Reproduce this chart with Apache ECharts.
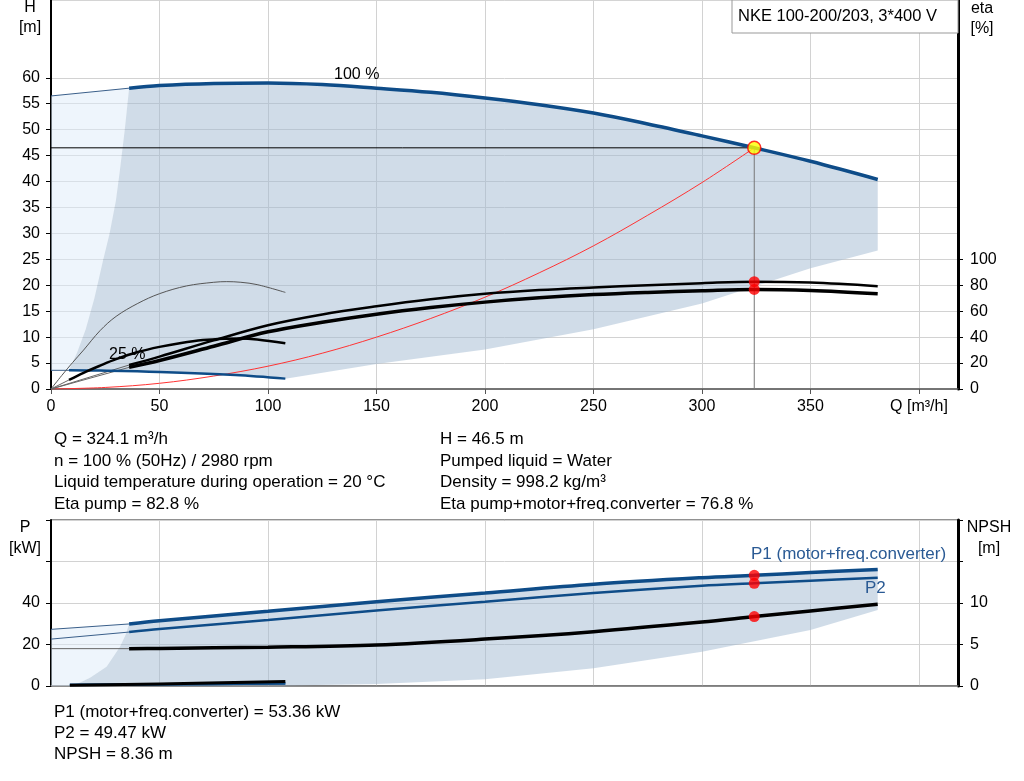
<!DOCTYPE html>
<html><head><meta charset="utf-8">
<script src="https://cdn.jsdelivr.net/npm/echarts@6/dist/echarts.min.js"></script>
<style>html,body{margin:0;padding:0;background:#fff}#c{width:1024px;height:781px}</style>
</head><body><div id="c"></div>
<script>
// ---------- DATA ----------
// Top chart: head H [m] vs Q [m3/h]
const qH100 = [36,50,75,100,125,150,175,200,225,250,275,300,324.1,350,381];
const h100  = [58,58.5,58.9,59,58.7,58,57.2,56.1,54.8,53.2,51.1,48.8,46.5,43.9,40.4];
const qH100Ext = [0,36];
const h100Ext  = [56.5,58];
const qH25 = [8.3,22.6,50,85,108];
const h25  = [3.6,3.55,3.3,2.7,2.0];
const qH25Ext = [0,8.3];
const h25Ext  = [3.6,3.6];
// Efficiency [%] (right axis)
const qEta100 = [36,50,75,100,125,150,175,200,225,250,275,300,324.1,350,381];
const etaPump100  = [18.5,25,37.5,49.2,57.5,63.8,69.2,73.4,76.3,78.3,80,81.6,82.8,82.1,79.3];
const etaTotal100 = [16.7,22,33,44.1,51.5,57.7,62.8,67,70.3,72.8,74.5,75.8,76.8,76,73.5];
const qEtaExt = [0,36];
const etaPumpExt  = [0,18.5];
const etaTotalExt = [0,16.7];
const qEtaPump25 = [0,5,10,15,22.6,30,40,50,62.5,75,81,87.5,95,108];
const etaPump25  = [0,10.5,20.5,30,45,56,66,73.5,79.5,82.3,82.8,82.3,80.5,74.5];
const qEtaTotal25 = [8.3,15,22.6,30,40,50,60,70,80,87,95,108];
const etaTotal25  = [7,12.5,18,23,28.5,32.5,35.5,37.7,38.8,39,38.2,35.2];
const qEtaTotal25Ext = [0,8.3];
const etaTotal25Ext  = [0,7];
// System curve (red)
const qSys = [0,25,50,75,100,125,150,175,200,225,250,275,300,324.1];
const hSys = [0,0.3,1.1,2.5,4.4,6.9,10,13.6,17.7,22.4,27.6,33.5,39.8,46.5];
// Operating range boundaries (top)
const qDarkLower = [381,350,300,250,200,150,108];
const hDarkLower = [26.7,23.3,16.5,11.5,7.6,4.8,2.0];
const qLeftBound = [36,34,31.7,29.9,27,24,20,16,12,8.3];
const hLeftBound = [58,50,42,36.3,30,24.8,17.5,11.5,7,3.6];
// Duty point
const dutyQ = 324.1, dutyH = 46.5, dutyEtaPump = 82.8, dutyEtaTotal = 76.8;
const dutyP1 = 53.36, dutyP2 = 49.47, dutyNPSH = 8.36;
// Bottom chart: power P [kW], NPSH [m]
const qP = [36,50,100,150,200,250,300,324.1,350,381];
const p1 = [29.9,31.5,36,40.6,44.8,49,52.2,53.36,54.7,56.2];
const p2 = [26,27.5,31.8,36.4,40.6,44.8,48.3,49.47,50.7,52.2];
const npsh = [4.5,4.53,4.68,4.95,5.65,6.55,7.7,8.36,9.05,9.85];
const qPExt = [0,36];
const p1Ext = [27.3,29.9];
const p2Ext = [22.6,26];
const npshExt = [4.5,4.5];
const qP25 = [8.7,50,108];
const p1_25 = [0.6,0.8,1.3];
const p2_25 = [0.5,0.7,1.1];
const npsh25 = [0.08,0.25,0.53];
const qPLower = [381,350,300,250,200,150,108,60,10];
const pLower  = [36.6,27,16.5,8.5,3.2,1,0.3,0,0];
const qPLeft = [10,18,25.6,31.8,34.5,36];
const pLeft  = [0,4,9.3,18.9,25,29.9];
// Tick labels
const qTicks = [0,50,100,150,200,250,300,350,400];
const hTicks = [0,5,10,15,20,25,30,35,40,45,50,55,60];
const etaTicks = [0,20,40,60,80,100];
const pTicks = [0,20,40];
const pTickMarks = [0,20,40,60,80];
const npshTicks = [0,5,10];
const npshTickMarks = [0,5,10,15,20];

// ---------- helpers ----------
const zip = (a,b) => a.map((v,i)=>[v,b[i]]);
const rev = a => a.slice().reverse();
const BLUE = '#0e4c88';
const FONT = "'Liberation Sans', Arial, sans-serif";
function line(xi, yi, qs, vs, color, width, z, smooth){
  return {type:'line', xAxisIndex:xi, yAxisIndex:yi, data:zip(qs,vs), showSymbol:false, silent:true,
    smooth: smooth===undefined?0.35:smooth, z:z||4, lineStyle:{color:color, width:width}};
}
function poly(xi, yi, qs, vs, fill){
  const pts = zip(qs,vs);
  return {type:'custom', xAxisIndex:xi, yAxisIndex:yi, data:[pts[0]], silent:true, z:1,
    renderItem:(params, api)=>({type:'polygon', shape:{points: pts.map(p=>api.coord(p))}, style:{fill:fill}})};
}
const darkFill = 'rgba(161,185,209,0.5)';
const lightFill = 'rgba(221,235,249,0.5)';

// polygons
const topDarkQ = qH100.concat(qDarkLower, rev(qH25), rev(qLeftBound));
const topDarkV = h100.concat(hDarkLower, rev(h25), rev(hLeftBound));
const topLightQ = [0].concat(qH100Ext, qLeftBound);
const topLightV = [3.6].concat(h100Ext, hLeftBound);
const botDarkQ = qP.concat(qPLower, qPLeft);
const botDarkV = p1.concat(pLower, pLeft);
const botLightQ = [0].concat(qPExt, rev(qPLeft));
const botLightV = [0].concat(p1Ext, rev(pLeft));

const axisLabelStyle = {color:'#000', fontSize:16, fontFamily:FONT};
const splitStyle = {show:true, lineStyle:{color:'#d2d2d2', width:1}};

const option = {
  animation:false,
  backgroundColor:'#fff',
  grid:[
    {left:51, top:0, width:907, height:389, show:true, borderColor:'#aaa', borderWidth:1},
    {left:51, top:520, width:907, height:166, show:true, borderColor:'#222', borderWidth:1}
  ],
  xAxis:[
    {gridIndex:0, type:'value', min:0, max:418, interval:50,
     axisLine:{lineStyle:{color:'#555', width:1.5}},
     axisTick:{show:true, length:5, lineStyle:{color:'#555'}, customValues:qTicks},
     axisLabel:Object.assign({margin:10, customValues:qTicks,
        formatter:v=> v===400 ? 'Q [m³/h]' : (qTicks.indexOf(v)>=0 ? String(v) : '')}, axisLabelStyle),
     splitLine:splitStyle},
    {gridIndex:1, type:'value', min:0, max:418, interval:50,
     axisLine:{lineStyle:{color:'#777', width:1.5}},
     axisTick:{show:false}, axisLabel:{show:false}, splitLine:splitStyle}
  ],
  yAxis:[
    {gridIndex:0, type:'value', min:0, max:75, interval:5, position:'left',
     axisLine:{show:true, lineStyle:{color:'#000', width:2}},
     axisTick:{show:true, length:5, lineStyle:{color:'#000'}, customValues:hTicks},
     axisLabel:Object.assign({margin:11, customValues:hTicks, formatter:v=> v<=60 ? String(v) : ''}, axisLabelStyle),
     splitLine:splitStyle},
    {gridIndex:0, type:'value', min:0, max:300, interval:20, position:'right',
     axisLine:{show:true, lineStyle:{color:'#000', width:3}},
     axisTick:{show:true, length:5, lineStyle:{color:'#000'}, customValues:etaTicks},
     axisLabel:Object.assign({margin:12, customValues:etaTicks, formatter:v=> v<=100 ? String(v) : ''}, axisLabelStyle),
     splitLine:{show:false}},
    {gridIndex:1, type:'value', min:0, max:80, interval:20, position:'left',
     axisLine:{show:true, lineStyle:{color:'#000', width:2}},
     axisTick:{show:true, length:5, lineStyle:{color:'#000'}, customValues:pTickMarks},
     axisLabel:Object.assign({margin:11, customValues:pTicks, formatter:v=> v<=40 ? String(v) : ''}, axisLabelStyle),
     splitLine:splitStyle},
    {gridIndex:1, type:'value', min:0, max:20, interval:5, position:'right',
     axisLine:{show:true, lineStyle:{color:'#000', width:3}},
     axisTick:{show:true, length:5, lineStyle:{color:'#000'}, customValues:npshTickMarks},
     axisLabel:Object.assign({margin:12, customValues:npshTicks, formatter:v=> v<=10 ? String(v) : ''}, axisLabelStyle),
     splitLine:{show:false}}
  ],
  series:[
    // fills
    poly(0,0,topLightQ,topLightV,lightFill),
    poly(0,0,topDarkQ,topDarkV,darkFill),
    poly(1,2,botLightQ,botLightV,lightFill),
    poly(1,2,botDarkQ,botDarkV,darkFill),
    // duty reference lines
    line(0,0,[0,dutyQ],[dutyH,dutyH],'#000',1,2,false),
    line(0,0,[dutyQ,dutyQ],[dutyH,0],'#777',1,2,false),
    // system curve
    line(0,0,qSys,hSys,'#ff3333',1,3),
    // head curves
    line(0,0,qH100Ext,h100Ext,'#3a5f8a',1,3,false),
    line(0,0,qH100,h100,BLUE,3.5,4),
    line(0,0,qH25Ext,h25Ext,'#3a5f8a',1,3,false),
    line(0,0,qH25,h25,BLUE,2.5,4),
    // efficiency curves
    line(0,1,qEtaExt,etaPumpExt,'#666',1,3,false),
    line(0,1,qEtaExt,etaTotalExt,'#666',1,3,false),
    line(0,1,qEtaTotal25Ext,etaTotal25Ext,'#666',1,3,false),
    line(0,1,qEtaPump25,etaPump25,'#555',1,3),
    line(0,1,qEtaTotal25,etaTotal25,'#000',2.5,4),
    line(0,1,qEta100,etaPump100,'#000',2.5,4),
    line(0,1,qEta100,etaTotal100,'#000',3.5,4),
    // power / NPSH
    line(1,2,qPExt,p1Ext,'#3a5f8a',1,3,false),
    line(1,2,qPExt,p2Ext,'#3a5f8a',1,3,false),
    line(1,3,qPExt,npshExt,'#666',1,3,false),
    line(1,2,qP,p1,BLUE,3.5,4),
    line(1,2,qP,p2,BLUE,2.5,4),
    line(1,3,qP,npsh,'#000',3.5,4),
    line(1,2,qP25,p1_25,BLUE,2.5,4),
    line(1,2,qP25,p2_25,BLUE,2,4),
    line(1,3,qP25,npsh25,'#000',3,5),
    // duty markers
    {type:'scatter', xAxisIndex:0, yAxisIndex:1, z:6, silent:true, symbolSize:11,
     itemStyle:{color:'#ff0000'}, data:[[dutyQ,dutyEtaPump],[dutyQ,dutyEtaTotal]]},
    {type:'scatter', xAxisIndex:0, yAxisIndex:0, z:7, silent:true, symbolSize:13,
     itemStyle:{color:'#ffff00', borderColor:'#ff0000', borderWidth:1.5}, data:[[dutyQ,dutyH]]},
    {type:'scatter', xAxisIndex:1, yAxisIndex:2, z:6, silent:true, symbolSize:11,
     itemStyle:{color:'#ff0000'}, data:[[dutyQ,dutyP1],[dutyQ,dutyP2]]},
    {type:'scatter', xAxisIndex:1, yAxisIndex:3, z:6, silent:true, symbolSize:11,
     itemStyle:{color:'#ff0000'}, data:[[dutyQ,dutyNPSH]]}
  ],
  graphic:[
    {type:'rect', z:100, shape:{x:732, y:0, width:226, height:33}, style:{fill:'#fff', stroke:'#999', lineWidth:1}},
    {type:'text', z:101, x:738, y:16, style:{text:'NKE 100-200/203, 3*400 V', font:'16.5px '+FONT, fill:'#000', verticalAlign:'middle'}},
    {type:'text', z:101, x:30, y:18, style:{text:'H\n[m]', font:'16px '+FONT, fill:'#000', align:'center', verticalAlign:'middle', lineHeight:20}},
    {type:'text', z:101, x:982, y:19, style:{text:'eta\n[%]', font:'16px '+FONT, fill:'#000', align:'center', verticalAlign:'middle', lineHeight:20}},
    {type:'text', z:101, x:25, y:538, style:{text:'P\n[kW]', font:'16px '+FONT, fill:'#000', align:'center', verticalAlign:'middle', lineHeight:21}},
    {type:'text', z:101, x:989, y:538, style:{text:'NPSH\n[m]', font:'16px '+FONT, fill:'#000', align:'center', verticalAlign:'middle', lineHeight:21}},
    {type:'text', z:101, x:334, y:75, style:{text:'100 %', font:'16px '+FONT, fill:'#000', verticalAlign:'middle'}},
    {type:'text', z:101, x:109, y:355, style:{text:'25 %', font:'16px '+FONT, fill:'#000', verticalAlign:'middle'}},
    {type:'text', z:101, x:751, y:554, style:{text:'P1 (motor+freq.converter)', font:'17px '+FONT, fill:'#2a5a94', verticalAlign:'middle'}},
    {type:'text', z:101, x:865, y:588, style:{text:'P2', font:'17px '+FONT, fill:'#2a5a94', verticalAlign:'middle'}},
    {type:'text', z:101, x:54, y:472, style:{text:'Q = 324.1 m³/h\nn = 100 % (50Hz) / 2980 rpm\nLiquid temperature during operation = 20 °C\nEta pump = 82.8 %', font:'17px '+FONT, fill:'#000', verticalAlign:'middle', lineHeight:21.5}},
    {type:'text', z:101, x:440, y:472, style:{text:'H = 46.5 m\nPumped liquid = Water\nDensity = 998.2 kg/m³\nEta pump+motor+freq.converter = 76.8 %', font:'17px '+FONT, fill:'#000', verticalAlign:'middle', lineHeight:21.5}},
    {type:'text', z:101, x:54, y:733, style:{text:'P1 (motor+freq.converter) = 53.36 kW\nP2 = 49.47 kW\nNPSH = 8.36 m', font:'17px '+FONT, fill:'#000', verticalAlign:'middle', lineHeight:21}}
  ]
};
const chart = echarts.init(document.getElementById('c'), null, {renderer:'canvas'});
chart.setOption(option);
</script></body></html>
